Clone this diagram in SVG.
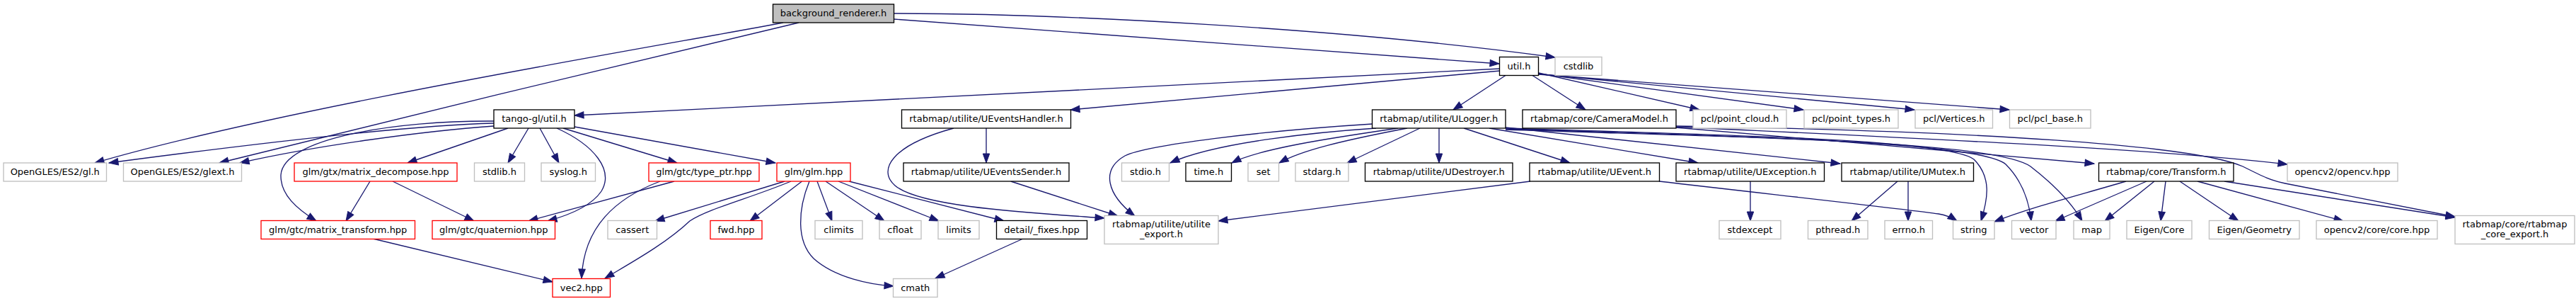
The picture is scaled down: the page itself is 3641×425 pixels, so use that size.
<svg xmlns="http://www.w3.org/2000/svg" width="3641" height="425" viewBox="0 0 3641 425">
<style>
.node rect{stroke-width:1.33}
.g rect{fill:#fff;stroke:#bfbfbf}
.b rect{fill:#fff;stroke:#000}
.r rect{fill:#fff;stroke:#ff0000}
.root rect{fill:#bfbfbf;stroke:#000}
.node text{font-family:"DejaVu Sans","Liberation Sans",sans-serif;font-size:13px;fill:#000;text-anchor:middle}
#edges path{fill:none;stroke:#191970;stroke-width:1.33;marker-end:url(#arr)}
</style>
<defs>
<marker id="arr" markerUnits="userSpaceOnUse" markerWidth="14" markerHeight="10" viewBox="0 0 14 10" refX="13" refY="4.7" orient="auto" overflow="visible">
<path d="M0,0 L13,4.7 L0,9.4 z" fill="#191970" stroke="#191970" stroke-width="1"/>
</marker>
</defs>
<rect width="3641" height="425" fill="#fff"/>
<g id="edges">
<path d="M1107,32 C950,62 400,152 134,230"/>
<path d="M1129,32 C900,86 550,170 310,230"/>
<path d="M1263,27 L2119,90"/>
<path d="M1263,19 C1500,19 1900,40 2198,81"/>
<path d="M2120,97 L812,163"/>
<path d="M2120,100 L1513,155"/>
<path d="M2128,106.5 L2054,155"/>
<path d="M2166,106.5 L2241,155"/>
<path d="M2175,103 L2402,155"/>
<path d="M2175,104 L2549,155"/>
<path d="M2175,104.5 L2706,155"/>
<path d="M2175,105 L2840,155"/>
<path d="M698,174 C580,177 380,200 154,230"/>
<path d="M698,178 C600,185 450,205 339,230"/>
<path d="M718,181 L576,230"/>
<path d="M698,171 C560,170 400,195 397,247 C396,275 420,295 447,312"/>
<path d="M747,181 L718,230"/>
<path d="M763,181 L790,230"/>
<path d="M787,181 C840,205 868,240 850,270 C835,292 800,305 774,312"/>
<path d="M796,181 L957,230"/>
<path d="M812,179 L1096,230"/>
<path d="M523,256 L489,312"/>
<path d="M555,256 L670,312"/>
<path d="M527,337 L781,398"/>
<path d="M953,256 L747,312"/>
<path d="M933,256 C870,280 825,320 822,393"/>
<path d="M1109,256 L926,312"/>
<path d="M1118,256 C1060,280 1000,295 975,312 C940,345 890,372 855,393"/>
<path d="M1133.5,256 L1060,312"/>
<path d="M1144,256 C1128,295 1125,340 1150,365 C1180,392 1230,402 1263,404"/>
<path d="M1155,256 L1176,312"/>
<path d="M1167,256 L1250,312"/>
<path d="M1185,256 L1327,312"/>
<path d="M1200,256 L1419,312"/>
<path d="M1446,337 L1322,393"/>
<path d="M1394,181 L1394,230"/>
<path d="M1348,181 C1260,205 1240,240 1265,262 C1300,292 1450,300 1561,308"/>
<path d="M1428.6,256 L1580,305"/>
<path d="M1940,175 C1780,185 1620,205 1590,220 C1555,240 1565,275 1604,305"/>
<path d="M1945,181 C1870,186 1720,200 1654,230"/>
<path d="M1976,181 C1880,195 1780,210 1741,230"/>
<path d="M1989,181 C1900,198 1840,212 1808,230"/>
<path d="M2007,181 L1904,230"/>
<path d="M2034,181 L2034,230"/>
<path d="M2069,181 L2219,230"/>
<path d="M2105,181 L2400,230"/>
<path d="M2128,180 L2601,231"/>
<path d="M2128,181 C2400,190 2750,195 2790,225 C2815,250 2810,280 2800,312"/>
<path d="M2128,182 C2450,192 2800,200 2835,232 C2858,255 2868,285 2871,312"/>
<path d="M2128,183 C2500,195 2820,200 2870,235 C2905,262 2930,290 2943,312"/>
<path d="M2368,180 C2550,196 2800,216 2960,231"/>
<path d="M2369,179 C2700,195 3050,210 3233,232"/>
<path d="M2369,178 C2800,185 3100,205 3170,235 C3200,250 3210,255 3230,259 L3470,306"/>
<path d="M3005,256 C2930,278 2870,293 2819,313"/>
<path d="M3034,256 L2905,312"/>
<path d="M3045,256 L2975,312"/>
<path d="M3061,256 L3054,312"/>
<path d="M3081,256 L3164,312"/>
<path d="M3106,256 L3312,312"/>
<path d="M3144,256 L3470,307"/>
<path d="M2163,256 L1722,312"/>
<path d="M2345,256 C2500,274 2700,296 2740,302 C2752,304 2760,308 2766,312"/>
<path d="M2474,256 L2474,312"/>
<path d="M2682,256 L2617,312"/>
<path d="M2697,256 L2697,312"/>
</g>
<g id="n_background" class="node root"><rect x="1092.5" y="6" width="171" height="26"/><text x="1178" y="23">background_renderer.h</text></g>
<g id="n_util" class="node b"><rect x="2119.5" y="80.5" width="55" height="26"/><text x="2147" y="97.5">util.h</text></g>
<g id="n_cstdlib" class="node g"><rect x="2198" y="80.5" width="66" height="26"/><text x="2231" y="97.5">cstdlib</text></g>
<g id="n_tango_util" class="node b"><rect x="698" y="155" width="114" height="26"/><text x="755" y="172">tango-gl/util.h</text></g>
<g id="n_ueventshandler" class="node b"><rect x="1274.5" y="155" width="239" height="26"/><text x="1394" y="172">rtabmap/utilite/UEventsHandler.h</text></g>
<g id="n_ulogger" class="node b"><rect x="1939.5" y="155" width="188.5" height="26"/><text x="2033.75" y="172">rtabmap/utilite/ULogger.h</text></g>
<g id="n_cameramodel" class="node b"><rect x="2152" y="155" width="217" height="26"/><text x="2260.5" y="172">rtabmap/core/CameraModel.h</text></g>
<g id="n_point_cloud" class="node g"><rect x="2393" y="155" width="132" height="26"/><text x="2459" y="172">pcl/point_cloud.h</text></g>
<g id="n_point_types" class="node g"><rect x="2550" y="155" width="133" height="26"/><text x="2616.5" y="172">pcl/point_types.h</text></g>
<g id="n_vertices" class="node g"><rect x="2707" y="155" width="109.5" height="26"/><text x="2761.75" y="172">pcl/Vertices.h</text></g>
<g id="n_pcl_base" class="node g"><rect x="2840.5" y="155" width="114.5" height="26"/><text x="2897.75" y="172">pcl/pcl_base.h</text></g>
<g id="n_gl" class="node g"><rect x="5" y="230" width="145.5" height="26"/><text x="77.75" y="247">OpenGLES/ES2/gl.h</text></g>
<g id="n_glext" class="node g"><rect x="174.5" y="230" width="167" height="26"/><text x="258" y="247">OpenGLES/ES2/glext.h</text></g>
<g id="n_matrix_decompose" class="node r"><rect x="416" y="230" width="230" height="26"/><text x="531" y="247">glm/gtx/matrix_decompose.hpp</text></g>
<g id="n_stdlib" class="node g"><rect x="670.5" y="230" width="71" height="26"/><text x="706" y="247">stdlib.h</text></g>
<g id="n_syslog" class="node g"><rect x="765" y="230" width="76.5" height="26"/><text x="803.25" y="247">syslog.h</text></g>
<g id="n_type_ptr" class="node r"><rect x="917" y="230" width="156" height="26"/><text x="995" y="247">glm/gtc/type_ptr.hpp</text></g>
<g id="n_glm" class="node r"><rect x="1098" y="230" width="104" height="26"/><text x="1150" y="247">glm/glm.hpp</text></g>
<g id="n_ueventssender" class="node b"><rect x="1277" y="230" width="234" height="26"/><text x="1394" y="247">rtabmap/utilite/UEventsSender.h</text></g>
<g id="n_stdio" class="node g"><rect x="1585.5" y="230" width="67" height="26"/><text x="1619" y="247">stdio.h</text></g>
<g id="n_time" class="node b"><rect x="1676" y="230" width="64.5" height="26"/><text x="1708.25" y="247">time.h</text></g>
<g id="n_set" class="node g"><rect x="1764" y="230" width="43.5" height="26"/><text x="1785.75" y="247">set</text></g>
<g id="n_stdarg" class="node g"><rect x="1831" y="230" width="75" height="26"/><text x="1868.5" y="247">stdarg.h</text></g>
<g id="n_udestroyer" class="node b"><rect x="1929.5" y="230" width="208.5" height="26"/><text x="2033.75" y="247">rtabmap/utilite/UDestroyer.h</text></g>
<g id="n_uevent" class="node b"><rect x="2162" y="230" width="183.5" height="26"/><text x="2253.75" y="247">rtabmap/utilite/UEvent.h</text></g>
<g id="n_uexception" class="node b"><rect x="2369" y="230" width="209.5" height="26"/><text x="2473.75" y="247">rtabmap/utilite/UException.h</text></g>
<g id="n_umutex" class="node b"><rect x="2603" y="230" width="186.5" height="26"/><text x="2696.25" y="247">rtabmap/utilite/UMutex.h</text></g>
<g id="n_transform" class="node b"><rect x="2966.5" y="230" width="190.5" height="26"/><text x="3061.75" y="247">rtabmap/core/Transform.h</text></g>
<g id="n_opencv" class="node g"><rect x="3233" y="230" width="156" height="26"/><text x="3311" y="247">opencv2/opencv.hpp</text></g>
<g id="n_matrix_transform" class="node r"><rect x="369" y="311.5" width="217.5" height="26"/><text x="477.75" y="328.5">glm/gtc/matrix_transform.hpp</text></g>
<g id="n_quaternion" class="node r"><rect x="611" y="311.5" width="173.5" height="26"/><text x="697.75" y="328.5">glm/gtc/quaternion.hpp</text></g>
<g id="n_cassert" class="node g"><rect x="859" y="311.5" width="69.5" height="26"/><text x="893.75" y="328.5">cassert</text></g>
<g id="n_fwd" class="node r"><rect x="1004" y="311.5" width="73" height="26"/><text x="1040.5" y="328.5">fwd.hpp</text></g>
<g id="n_climits" class="node g"><rect x="1152" y="311.5" width="67" height="26"/><text x="1185.5" y="328.5">climits</text></g>
<g id="n_cfloat" class="node g"><rect x="1243" y="311.5" width="59" height="26"/><text x="1272.5" y="328.5">cfloat</text></g>
<g id="n_limits" class="node g"><rect x="1326" y="311.5" width="58" height="26"/><text x="1355" y="328.5">limits</text></g>
<g id="n_fixes" class="node b"><rect x="1408.5" y="311.5" width="128" height="26"/><text x="1472.5" y="328.5">detail/_fixes.hpp</text></g>
<g id="n_utilite_export" class="node g"><rect x="1561" y="304.5" width="161" height="40"/><text x="1641.5" y="320.5">rtabmap/utilite/utilite</text><text x="1641.5" y="335">_export.h</text></g>
<g id="n_stdexcept" class="node g"><rect x="2430" y="311.5" width="87" height="26"/><text x="2473.5" y="328.5">stdexcept</text></g>
<g id="n_pthread" class="node g"><rect x="2555.5" y="311.5" width="84.5" height="26"/><text x="2597.75" y="328.5">pthread.h</text></g>
<g id="n_errno" class="node g"><rect x="2664" y="311.5" width="67.5" height="26"/><text x="2697.75" y="328.5">errno.h</text></g>
<g id="n_string" class="node g"><rect x="2760.5" y="311.5" width="58.5" height="26"/><text x="2789.75" y="328.5">string</text></g>
<g id="n_vector" class="node g"><rect x="2843.5" y="311.5" width="62.5" height="26"/><text x="2874.75" y="328.5">vector</text></g>
<g id="n_map" class="node g"><rect x="2931" y="311.5" width="51" height="26"/><text x="2956.5" y="328.5">map</text></g>
<g id="n_eigen_core" class="node g"><rect x="3006" y="311.5" width="92" height="26"/><text x="3052" y="328.5">Eigen/Core</text></g>
<g id="n_eigen_geometry" class="node g"><rect x="3122.5" y="311.5" width="127.5" height="26"/><text x="3186.25" y="328.5">Eigen/Geometry</text></g>
<g id="n_core_hpp" class="node g"><rect x="3274" y="311.5" width="171" height="26"/><text x="3359.5" y="328.5">opencv2/core/core.hpp</text></g>
<g id="n_core_export" class="node g"><rect x="3470" y="304.5" width="169" height="40"/><text x="3554.5" y="320.5">rtabmap/core/rtabmap</text><text x="3554.5" y="335">_core_export.h</text></g>
<g id="n_vec2" class="node r"><rect x="781" y="393.5" width="81.5" height="26"/><text x="821.75" y="410.5">vec2.hpp</text></g>
<g id="n_cmath" class="node g"><rect x="1262.5" y="393.5" width="62.5" height="26"/><text x="1293.75" y="410.5">cmath</text></g>
</svg>
